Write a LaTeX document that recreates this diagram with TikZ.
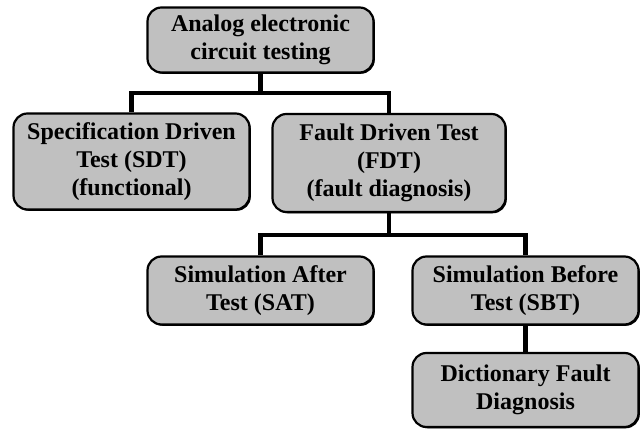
\documentclass[tikz,border=0pt]{standalone}
\usepackage{fontspec}
\setmainfont{Liberation Serif}
\usetikzlibrary{shadows}
\definecolor{boxgray}{RGB}{192,192,192}
\tikzset{
	testbox/.style = {draw, fill = boxgray, line width = 2.2pt, rounded corners = 14pt,
		align = center, inner sep = 0pt,
		font = \fontsize{24}{28}\selectfont\bfseries,
		drop shadow = {shadow xshift = 1.3pt, shadow yshift = -1.3pt, fill = black, opacity = 1}},
	link/.style = {line width = 4.5pt, line join = miter}
}
\begin{document}
\begin{tikzpicture} [x = 1pt, y = 1pt]
	\useasboundingbox (0,0) rectangle (642,430);
	% the boxes
	\node [testbox, minimum width = 226pt, minimum height = 65pt] (act) at (260.5,390) {Analog electronic\\circuit testing};
	\node [testbox, minimum width = 236pt, minimum height = 96pt] (sdt) at (131.5,268.5) {Specification Driven\\Test (SDT)\\(functional)};
	\node [testbox, minimum width = 233pt, minimum height = 98pt] (fdt) at (389,267) {Fault Driven Test\\(FDT)\\(fault diagnosis)};
	\node [testbox, minimum width = 226pt, minimum height = 68pt] (sat) at (260.5,139.5) {Simulation After\\Test (SAT)};
	\node [testbox, minimum width = 226pt, minimum height = 68pt] (sbt) at (525.5,139.5) {Simulation Before\\Test (SBT)};
	\node [testbox, minimum width = 226pt, minimum height = 74pt] (dfd) at (525.5,40) {Dictionary Fault\\Diagnosis};
	% the tree lines
	\coordinate (busa) at (0,337);
	\coordinate (busb) at (0,195);
	\draw [link] (act.south) -- (act.south |- busa);
	\draw [link] (sdt.north) |- (fdt.north |- busa) -- (fdt.north);
	\draw [link] (fdt.south) -- (fdt.south |- busb);
	\draw [link] (sat.north) |- (sbt.north |- busb) -- (sbt.north);
	\draw [link] (sbt.south) -- (dfd.north);
\end{tikzpicture}
\end{document}
